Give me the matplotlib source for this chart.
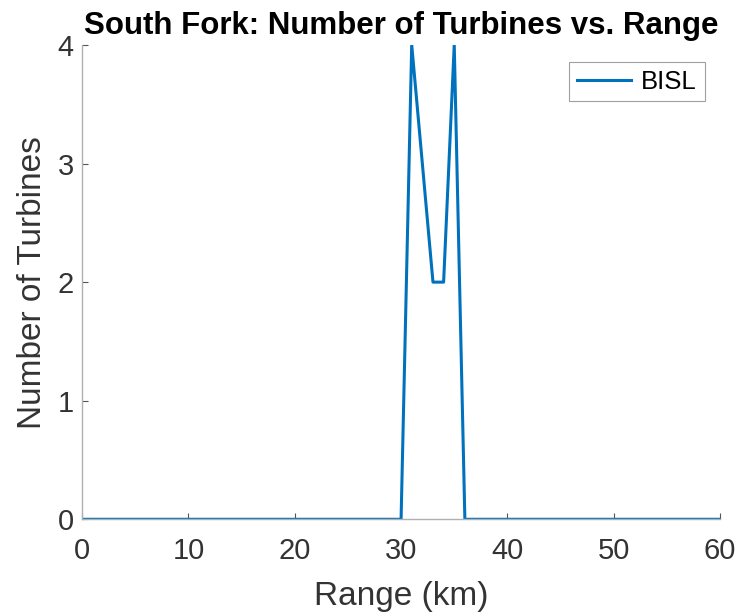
import numpy as np
import matplotlib
matplotlib.use("Agg")
import matplotlib.pyplot as plt

plt.rcParams['font.family'] = ['Liberation Sans', 'DejaVu Sans']

# Data
range_km = list(range(0, 61))
turbines = [0] * 30 + [0, 4, 3, 2, 2, 4, 0] + [0] * 24

fig = plt.figure(figsize=(7.4, 6.16), dpi=100)
ax = fig.add_axes([0.111, 0.157, 0.862, 0.770])

ax.plot(range_km, turbines, color='#0072BD', lw=2.2, label='BISL')

ax.set_xlim(0, 60)
ax.set_ylim(0, 4)
ax.set_xticks(np.arange(0, 61, 10))
ax.set_yticks(np.arange(0, 5, 1))
ax.tick_params(direction='in', labelsize=21, labelcolor='#333333',
               color='#555555', length=4, width=0.8, pad=6)
ax.tick_params(axis='x', pad=13)
ax.spines['top'].set_visible(False)
ax.spines['right'].set_visible(False)
for s in ['left', 'bottom']:
    ax.spines[s].set_color('#b0b0b0')
    ax.spines[s].set_linewidth(1.0)

ax.set_xlabel('Range (km)', fontsize=24, color='#333333', labelpad=11)
ax.set_ylabel('Number of Turbines', fontsize=24, color='#333333', labelpad=7)
ax.set_title('South Fork: Number of Turbines vs. Range', fontsize=22.5,
             fontweight='bold', pad=8)

leg = ax.legend(loc='upper right', fontsize=18.5, fancybox=False,
                edgecolor='#a0a0a0', framealpha=1, handlelength=2.1,
                handletextpad=0.4, borderaxespad=0, borderpad=0.3,
                bbox_to_anchor=(0.976, 0.964))
leg.get_frame().set_linewidth(0.8)

fig.savefig('out.png', dpi=100)
